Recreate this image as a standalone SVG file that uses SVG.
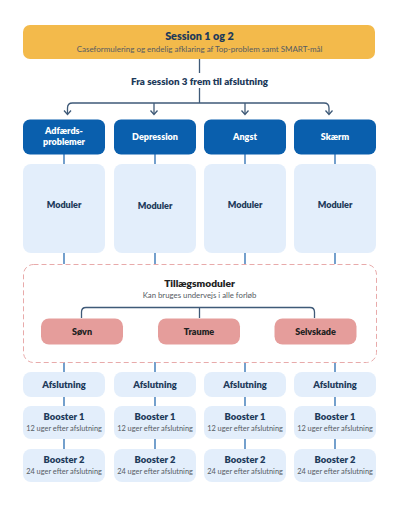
<svg xmlns="http://www.w3.org/2000/svg" width="400" height="505" viewBox="0 0 400 505">
<style>
text{font-family:Lato,"Noto Sans",sans-serif;text-anchor:middle}
.b{font-weight:800}
.dk{fill:#1d3a5a}
.gr{fill:#555b63}
.wh{fill:#ffffff}
.blue{fill:#0a5fad}
.lt{fill:#e3eefb}
.pk{fill:#e59d9b}
.conn{fill:none;stroke:#3f5a78;stroke-width:1.3}
.vl{fill:none;stroke:#2a6db2;stroke-width:1.3}
.l{font-size:9px}
.s{font-size:7.4px}
</style>
<rect width="400" height="505" fill="#ffffff"/>
<g id="connectors">
<path class="conn" d="M199.5,59 V73 M199.5,88 V103 M67.5,114 V108 Q67.5,103 72.5,103 H324 Q329,103 329,108 V114 M154,103 V114 M245,103 V114"/>
<path class="conn" d="M64,110.5 L67.5,114.5 L71,110.5 M150.5,110.5 L154,114.5 L157.5,110.5 M241.5,110.5 L245,114.5 L248.5,110.5 M325.5,110.5 L329,114.5 L332.5,110.5"/>
<path class="vl" d="M64,154 V164 M155,154 V164 M245,154 V164 M335,154 V164 M64,253 V264 M155,253 V264 M245,253 V264 M335,253 V264 M64,362 V372 M155,362 V372 M245,362 V372 M335,362 V372 M64,397 V406 M155,397 V406 M245,397 V406 M335,397 V406 M64,439 V449 M155,439 V449 M245,439 V449 M335,439 V449"/>
<path class="conn" d="M81.5,318 V312 Q81.5,307.5 86,307.5 H310 Q314.5,307.5 314.5,312 V318 M199.5,307.5 V318"/>
</g>
<g id="session12">
<rect x="23" y="25" width="352" height="34" rx="7" fill="#f3ba4b"/>
<text x="199.5" y="40" class="b dk" font-size="10.8">Session 1 og 2</text>
<text x="199.5" y="51.5" class="gr" font-size="8">Caseformulering og endelig afklaring af Top-problem samt SMART-mål</text>
</g>
<g id="fra-session3">
<text x="199.5" y="84.5" class="b dk" font-size="9.8">Fra session 3 frem til afslutning</text>
</g>
<g id="adfaerd">
<rect x="23" y="119.5" width="82" height="35" rx="7" class="blue"/>
<text x="64" y="134" class="b wh l">Adfærds-</text>
<text x="64" y="144.5" class="b wh l">problemer</text>
</g>
<g id="depression">
<rect x="114" y="119.5" width="82" height="35" rx="7" class="blue"/>
<text x="155" y="139.5" class="b wh l">Depression</text>
</g>
<g id="angst">
<rect x="204" y="119.5" width="82" height="35" rx="7" class="blue"/>
<text x="245" y="139.5" class="b wh l">Angst</text>
</g>
<g id="skaerm">
<rect x="294" y="119.5" width="82" height="35" rx="7" class="blue"/>
<text x="335" y="139.5" class="b wh l">Skærm</text>
</g>
<g id="moduler1"><rect x="23" y="164" width="82" height="89" rx="8" class="lt"/><text x="64" y="207.5" class="b dk l">Moduler</text></g>
<g id="moduler2"><rect x="114" y="164" width="82" height="89" rx="8" class="lt"/><text x="155" y="208.5" class="b dk l">Moduler</text></g>
<g id="moduler3"><rect x="204" y="164" width="82" height="89" rx="8" class="lt"/><text x="245" y="207.5" class="b dk l">Moduler</text></g>
<g id="moduler4"><rect x="294" y="164" width="82" height="89" rx="8" class="lt"/><text x="335" y="207.5" class="b dk l">Moduler</text></g>
<g id="tillaeg">
<rect x="23.5" y="264.5" width="353" height="98" rx="10" fill="none" stroke="#e8aaaa" stroke-width="1" stroke-dasharray="5,3"/>
<text x="199.5" y="286.5" class="b" fill="#222" font-size="10.2">Tillægsmoduler</text>
<text x="199.5" y="297.5" class="gr" font-size="7.8">Kan bruges undervejs i alle forløb</text>
</g>
<g id="soevn"><rect x="41" y="318.5" width="82" height="26" rx="8" class="pk"/><text x="82" y="335" class="b l" fill="#222">Søvn</text></g>
<g id="traume"><rect x="158" y="318.5" width="82" height="26" rx="8" class="pk"/><text x="199" y="335" class="b l" fill="#222">Traume</text></g>
<g id="selvskade"><rect x="274.5" y="318.5" width="82" height="26" rx="8" class="pk"/><text x="315.5" y="335" class="b l" fill="#222">Selvskade</text></g>
<g id="afslut1"><rect x="23" y="372" width="82" height="25" rx="8" class="lt"/><text x="64" y="388" class="b dk" font-size="9.4">Afslutning</text></g>
<g id="afslut2"><rect x="114" y="372" width="82" height="25" rx="8" class="lt"/><text x="155" y="388" class="b dk" font-size="9.4">Afslutning</text></g>
<g id="afslut3"><rect x="204" y="372" width="82" height="25" rx="8" class="lt"/><text x="245" y="388" class="b dk" font-size="9.4">Afslutning</text></g>
<g id="afslut4"><rect x="294" y="372" width="82" height="25" rx="8" class="lt"/><text x="335" y="388" class="b dk" font-size="9.4">Afslutning</text></g>
<g id="booster1-1"><rect x="23" y="406" width="82" height="33" rx="8" class="lt"/><text x="64" y="420" class="b dk" font-size="9.4">Booster 1</text><text x="64" y="431" class="gr s">12 uger efter afslutning</text></g>
<g id="booster1-2"><rect x="114" y="406" width="82" height="33" rx="8" class="lt"/><text x="155" y="420" class="b dk" font-size="9.4">Booster 1</text><text x="155" y="431" class="gr s">12 uger efter afslutning</text></g>
<g id="booster1-3"><rect x="204" y="406" width="82" height="33" rx="8" class="lt"/><text x="245" y="420" class="b dk" font-size="9.4">Booster 1</text><text x="245" y="431" class="gr s">12 uger efter afslutning</text></g>
<g id="booster1-4"><rect x="294" y="406" width="82" height="33" rx="8" class="lt"/><text x="335" y="420" class="b dk" font-size="9.4">Booster 1</text><text x="335" y="431" class="gr s">12 uger efter afslutning</text></g>
<g id="booster2-1"><rect x="23" y="449" width="82" height="33" rx="8" class="lt"/><text x="64" y="463" class="b dk" font-size="9.4">Booster 2</text><text x="64" y="474" class="gr s">24 uger efter afslutning</text></g>
<g id="booster2-2"><rect x="114" y="449" width="82" height="33" rx="8" class="lt"/><text x="155" y="463" class="b dk" font-size="9.4">Booster 2</text><text x="155" y="474" class="gr s">24 uger efter afslutning</text></g>
<g id="booster2-3"><rect x="204" y="449" width="82" height="33" rx="8" class="lt"/><text x="245" y="463" class="b dk" font-size="9.4">Booster 2</text><text x="245" y="474" class="gr s">24 uger efter afslutning</text></g>
<g id="booster2-4"><rect x="294" y="449" width="82" height="33" rx="8" class="lt"/><text x="335" y="463" class="b dk" font-size="9.4">Booster 2</text><text x="335" y="474" class="gr s">24 uger efter afslutning</text></g>
</svg>
